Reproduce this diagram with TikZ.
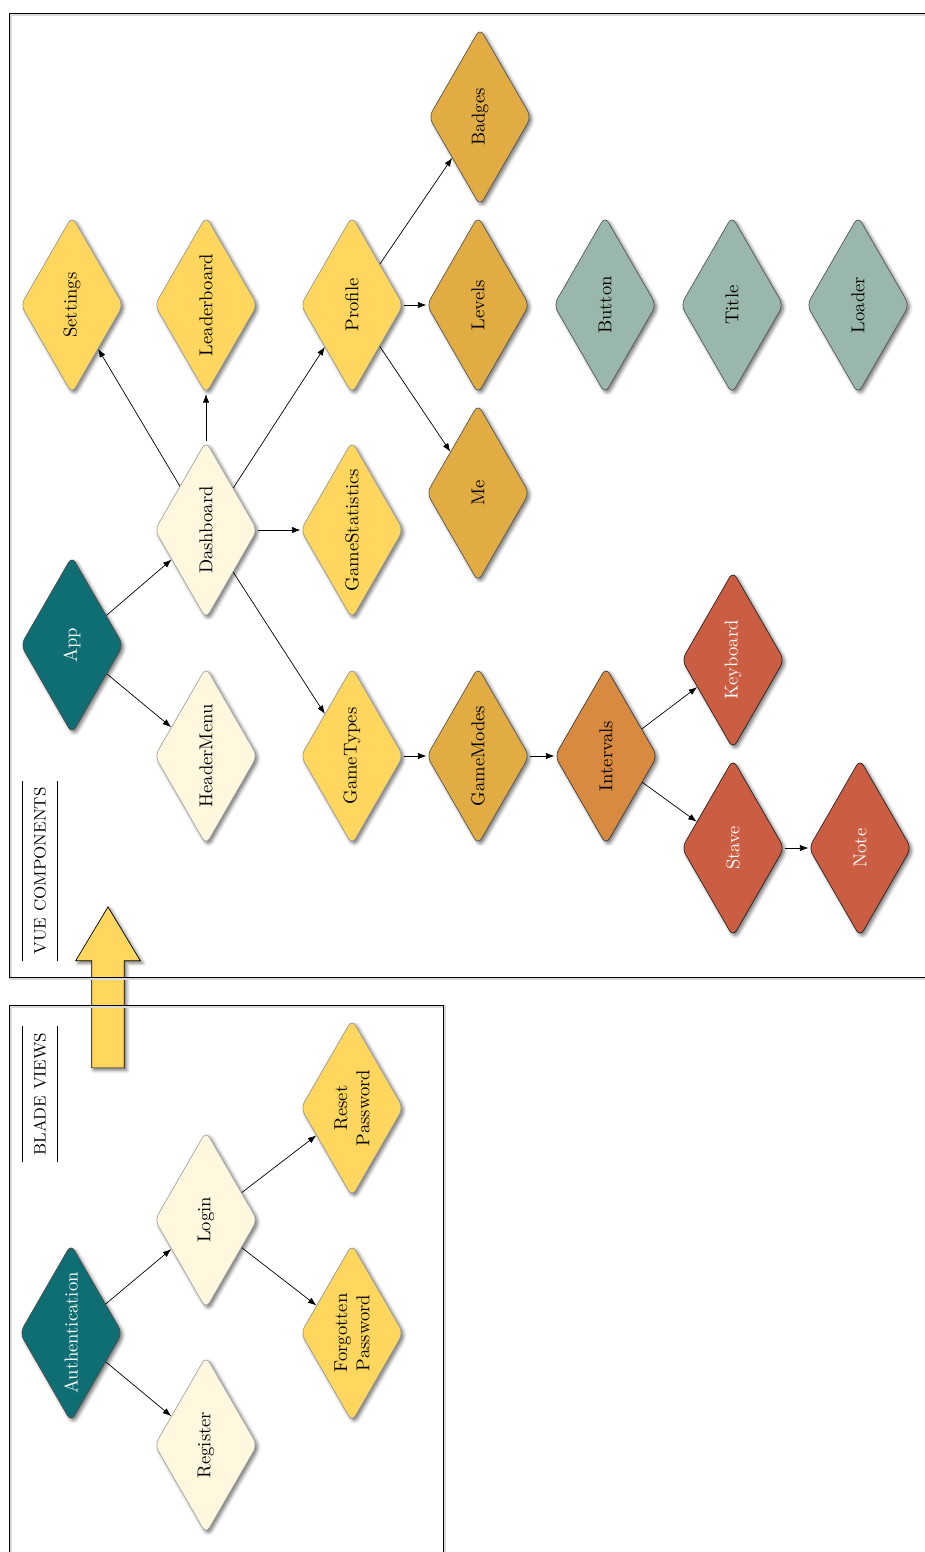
\documentclass[tikz,border=0pt]{standalone}
\usepackage{tikz}
\usetikzlibrary{shapes.geometric,shapes.arrows,arrows.meta,shadows.blur}

\definecolor{cEntry}{HTML}{0E6E73}
\definecolor{cLayout}{HTML}{FFF8DE}
\definecolor{cScreen}{HTML}{FFD75E}
\definecolor{cWidget}{HTML}{E1AC43}
\definecolor{cMode}{HTML}{D88A40}
\definecolor{cStaff}{HTML}{CB5D42}
\definecolor{cShared}{HTML}{99B8AB}

\begin{document}
\begin{tikzpicture}[
  x=0.02cm, y=-0.02cm,
  font=\fontsize{10.6}{12.7}\selectfont,
  comp/.style={diamond, rotate=90, aspect=1.75, minimum width=3.55cm, minimum height=2.05cm, inner sep=1pt, rounded corners=4pt, align=center, blur shadow={shadow xshift=1.3pt, shadow yshift=-1.3pt, shadow blur radius=2pt, shadow opacity=55}},
  entry/.style={comp, fill=cEntry, draw=black!70, text=white},
  layout/.style={comp, fill=cLayout, draw=black!35},
  screen/.style={comp, fill=cScreen, draw=black!40},
  widget/.style={comp, fill=cWidget, draw=black!65},
  gamemode/.style={comp, fill=cMode, draw=black!75},
  staff/.style={comp, fill=cStaff, draw=black!85, text=white},
  shared/.style={comp, fill=cShared, draw=black!65},
  heading/.style={rotate=90, font=\fontsize{9.4}{11}\selectfont, minimum height=0.7cm, inner xsep=0.12cm},
  bigarrow/.style={single arrow, rotate=90, draw=black, fill=cScreen, minimum height=3.22cm, inner xsep=0pt, inner ysep=0.32cm, single arrow head extend=0.32cm, single arrow tip angle=62, blur shadow={shadow xshift=1.3pt, shadow yshift=-1.3pt, shadow blur radius=2pt, shadow opacity=55}},
  panel/.style={draw=black, line width=0.5pt},
  panelshadow/.style={draw=black!15, line width=1.2pt, shift={(1.5,1.5)}},
  link/.style={-{Latex}}
]
  \useasboundingbox (0,0) rectangle (925,1552);
  \clip (0,0) rectangle (925,1552);

  \node[bigarrow] (handover) at (108,1001) {};

  \draw[panelshadow] (9,13) rectangle (960,977);
  \draw[panelshadow] (9,1005) rectangle (443,1600);
  \draw[panel] (9,13) rectangle (960,977);
  \draw[panel] (9,1005) rectangle (443,1600);

  \node[heading] (vuehead) at (40,871) {VUE COMPONENTS};
  \draw (vuehead.north west) -- (vuehead.north east);
  \draw (vuehead.south west) -- (vuehead.south east);
  \node[heading] (bladehead) at (40,1094) {BLADE VIEWS};
  \draw (bladehead.north west) -- (bladehead.north east);
  \draw (bladehead.south west) -- (bladehead.south east);

  \node[entry] (app) at (72,645) {App};
  \node[layout] (headermenu) at (206,756) {HeaderMenu};
  \node[layout] (dashboard) at (206,530) {Dashboard};
  \node[screen] (settings) at (72,305) {Settings};
  \node[screen] (leaderboard) at (206,305) {Leaderboard};
  \node[screen] (profile) at (352,305) {Profile};
  \node[screen] (gamestatistics) at (352,530) {GameStatistics};
  \node[screen] (gametypes) at (352,756) {GameTypes};
  \node[widget] (gamemodes) at (478,756) {GameModes};
  \node[widget] (me) at (478,493) {Me};
  \node[widget] (levels) at (478,305) {Levels};
  \node[widget] (badges) at (480,117) {Badges};
  \node[gamemode] (intervals) at (606,756) {Intervals};
  \node[staff] (keyboard) at (733,660) {Keyboard};
  \node[staff] (stave) at (733,848) {Stave};
  \node[staff] (note) at (860,848) {Note};
  \node[shared] (button) at (605,305) {Button};
  \node[shared] (title) at (732,305) {Title};
  \node[shared] (loader) at (858,305) {Loader};

  \node[entry] (authentication) at (71,1333) {Authentication};
  \node[layout] (login) at (206,1220) {Login};
  \node[layout] (register) at (206,1445) {Register};
  \node[screen] (reset) at (352,1108) {Reset\\Password};
  \node[screen] (forgotten) at (352,1333) {Forgotten\\Password};

  \draw[link] (app) -- (dashboard);
  \draw[link] (app) -- (headermenu);
  \draw[link] (dashboard) -- (settings);
  \draw[link] (dashboard) -- (leaderboard);
  \draw[link] (dashboard) -- (profile);
  \draw[link] (dashboard) -- (gamestatistics);
  \draw[link] (dashboard) -- (gametypes);
  \draw[link] (profile) -- (badges);
  \draw[link] (profile) -- (levels);
  \draw[link] (profile) -- (me);
  \draw[link] (gametypes) -- (gamemodes);
  \draw[link] (gamemodes) -- (intervals);
  \draw[link] (intervals) -- (keyboard);
  \draw[link] (intervals) -- (stave);
  \draw[link] (stave) -- (note);
  \draw[link] (authentication) -- (login);
  \draw[link] (authentication) -- (register);
  \draw[link] (login) -- (reset);
  \draw[link] (login) -- (forgotten);
\end{tikzpicture}
\end{document}
